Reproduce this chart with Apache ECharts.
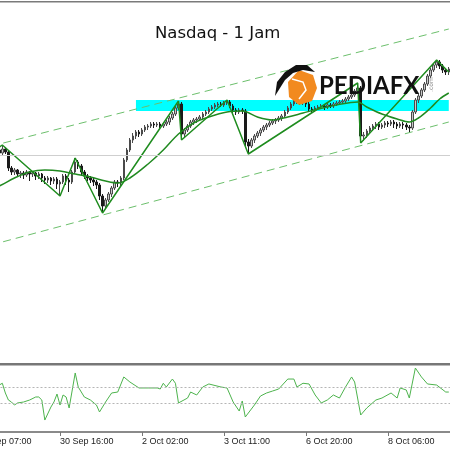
<!DOCTYPE html>
<html>
<head>
<meta charset="utf-8">
<script src="https://cdn.jsdelivr.net/npm/echarts/dist/echarts.min.js"></script>
<style>
html,body{margin:0;padding:0;background:#fff;}
#c{width:450px;height:450px;}
</style>
</head>
<body>
<div id="c"></div>
<script>
// Hourly candles [open, close, low, high]
const candles = [
[25200,25196,25188,25206],[25196,25200,25190,25206],[25200,25190,25184,25204],[25190,25200,25186,25204],[25200,25204,25194,25208],
[25204,25196,25190,25208],[25196,25200,25192,25204],[25200,25194,25186,25204],[25194,25202,25188,25210],[25202,25196,25192,25206],
[25196,25164,25158,25200],[25164,25156,25150,25168],[25156,25160,25150,25164],[25160,25152,25146,25162],[25152,25154,25144,25158],
[25154,25150,25142,25158],[25150,25156,25146,25160],[25156,25152,25138,25158],[25152,25154,25146,25158],[25154,25148,25140,25156],
[25148,25152,25142,25156],[25152,25144,25136,25154],[25144,25140,25132,25148],[25140,25144,25134,25148],[25144,25138,25130,25146],
[25138,25142,25132,25146],[25142,25132,25122,25146],[25132,25136,25108,25140],[25136,25148,25132,25152],[25148,25140,25130,25152],
[25140,25136,25116,25144],[25136,25156,25132,25160],[25156,25176,25152,25184],[25176,25168,25162,25180],[25168,25156,25150,25172],
[25156,25148,25142,25160],[25148,25144,25138,25152],[25144,25140,25134,25148],[25140,25136,25128,25144],[25136,25130,25122,25140],
[25130,25108,25100,25134],[25108,25088,25074,25112],[25088,25100,25082,25104],[25100,25112,25096,25116],[25112,25124,25106,25128],
[25124,25136,25120,25140],[25136,25134,25126,25140],[25134,25144,25128,25148],[25144,25180,25140,25184],[25180,25200,25176,25204],
[25200,25220,25196,25224],[25220,25228,25214,25234],[25228,25236,25222,25240],[25236,25232,25226,25240],[25232,25240,25228,25244],
[25240,25246,25236,25250],[25246,25248,25240,25252],[25248,25252,25244,25256],[25252,25250,25244,25256],[25250,25252,25246,25256],
[25252,25248,25242,25256],[25248,25252,25244,25256],[25252,25256,25248,25260],[25256,25264,25250,25268],[25264,25272,25260,25276],
[25272,25284,25268,25288],[25284,25292,25280,25298],[25292,25232,25220,25296],[25232,25240,25226,25244],[25240,25248,25236,25252],
[25248,25256,25244,25260],[25256,25260,25250,25264],[25260,25262,25254,25266],[25262,25266,25258,25270],[25266,25272,25262,25276],
[25272,25276,25268,25280],[25276,25282,25272,25286],[25282,25286,25278,25290],[25286,25290,25282,25294],[25290,25292,25286,25296],
[25292,25290,25286,25296],[25290,25294,25286,25298],[25294,25296,25290,25300],[25296,25288,25284,25300],[25288,25280,25274,25292],
[25280,25276,25270,25284],[25276,25280,25272,25284],[25280,25278,25272,25284],[25278,25216,25208,25282],[25216,25208,25192,25222],
[25208,25220,25204,25224],[25220,25228,25214,25232],[25228,25234,25224,25238],[25234,25240,25228,25244],[25240,25246,25236,25250],
[25246,25250,25240,25254],[25250,25254,25246,25258],[25254,25258,25250,25262],[25258,25260,25252,25264],[25260,25264,25256,25268],
[25264,25268,25258,25272],[25268,25276,25264,25280],[25276,25284,25272,25288],[25284,25292,25280,25296],[25292,25298,25288,25302],
[25298,25300,25292,25304],[25300,25296,25290,25304],[25296,25298,25290,25302],[25298,25292,25286,25302],[25292,25282,25276,25296],
[25282,25280,25274,25286],[25280,25284,25276,25288],[25284,25286,25280,25290],[25286,25288,25282,25292],[25288,25286,25280,25292],
[25286,25290,25282,25294],[25290,25288,25284,25294],[25288,25292,25284,25296],[25292,25294,25288,25298],[25294,25296,25290,25300],
[25296,25298,25292,25302],[25298,25302,25294,25306],[25302,25306,25298,25310],[25306,25310,25302,25314],[25310,25318,25306,25322],
[25318,25324,25312,25334],[25324,25228,25214,25328],[25228,25230,25218,25236],[25230,25238,25224,25242],[25238,25244,25232,25248],
[25244,25248,25238,25252],[25248,25252,25242,25256],[25252,25246,25240,25256],[25246,25250,25242,25254],[25250,25254,25244,25258],
[25254,25252,25246,25258],[25252,25256,25248,25260],[25256,25252,25244,25260],[25252,25248,25242,25256],[25248,25252,25244,25256],
[25252,25250,25242,25256],[25250,25246,25240,25254],[25246,25244,25236,25250],[25244,25276,25240,25280],[25276,25300,25272,25304],
[25300,25308,25294,25312],[25308,25320,25304,25324],[25320,25332,25316,25336],[25332,25348,25328,25352],[25348,25360,25344,25364],
[25360,25370,25356,25374],[25370,25376,25364,25380],[25376,25368,25362,25380],[25368,25360,25354,25372],[25360,25356,25350,25364],
[25356,25362,25350,25366]
];

// ZigZag vertices [barIndex, price]
const zigzag = [[2,25184],[8,25210],[27,25108],[32,25184],[41,25074],[66,25298],[67,25220],[82,25300],[89,25192],[125,25334],[126,25214],[151,25380],[155,25356]];

// Moving average [barIndex, price]
const movingAvg = [[0,25116],[3,25120],[7,25128],[12,25144],[17,25156],[22,25160],[27,25158],[32,25152],[37,25146],[42,25138],[46,25134],[50,25144],[56,25172],[61,25200],[66,25232],[71,25254],[76,25266],[82,25276],[87,25278],[92,25266],[97,25260],[102,25266],[107,25274],[112,25282],[118,25290],[125,25296],[128,25286],[133,25272],[138,25262],[142,25256],[145,25264],[149,25284],[152,25302],[155,25314]];

// Channel trend lines [barIndex, price]
const trendUpper = [[0,25201],[155,25442]];
const trendLower = [[0,25003],[155,25256]];

// Horizontal level and resistance zone
const levelLine = 25190;
const zoneTop = 25300;
const zoneBottom = 25278;
const zoneStart = 52;
const zoneEnd = 155;

// Oscillator [barIndex, value] and its levels
const oscillator = [[0,55],[3,60],[5,58],[7,62.9],[8,65.1],[9,52.9],[10,44.1],[11,41.6],[12,37.8],[13,40.4],[15,41.6],[17,44.1],[19,47.9],[20,47.9],[21,44.1],[22,19.0],[24,35.3],[25,41.6],[26,51.6],[27,37.8],[28,50.4],[29,47.9],[30,34.1],[32,78.0],[33,60.4],[35,47.9],[37,44.1],[39,37.8],[40,29.1],[42,41.6],[44,52.9],[46,54.1],[48,73.0],[50,66.7],[53,59.2],[56,59.2],[59,59.2],[60,57.9],[61,65.1],[62,60.4],[64,70.4],[65,65.1],[66,40.4],[69,46.6],[70,54.1],[72,50.4],[74,60.4],[76,64.2],[80,60.4],[82,59.2],[84,41.6],[86,30.3],[87,42.9],[88,22.8],[91,37.8],[93,49.1],[95,52.9],[97,55.4],[99,57.9],[102,70.4],[104,70.4],[105,60.4],[107,65.1],[109,64.2],[111,50.4],[113,40.4],[115,44.1],[117,50.4],[119,46.6],[121,60.4],[123,73.0],[124,66.7],[126,25.3],[128,34.1],[131,44.1],[133,46.6],[136,52.9],[138,46.6],[139,59.2],[141,56.7],[142,46.6],[144,84.2],[146,73.0],[148,64.2],[151,62.9],[154,54.1],[155,54.1]];
const oscLevels = [60, 40];

// Time axis labels
const tickIndex = [0, 27, 54, 81, 108, 135];
const tickLabels = ['29 Sep 07:00', '30 Sep 16:00', '2 Oct 02:00', '3 Oct 11:00', '6 Oct 20:00', '8 Oct 06:00'];

const cats = candles.map((_, i) => String(i));
const isTick = (i) => tickIndex.indexOf(i) >= 0;

const chart = echarts.init(document.getElementById('c'), null, {renderer: 'canvas'});
const trendStyle = {color: '#6cbf6c', type: [8, 5], width: 1};

chart.setOption({
  animation: false,
  backgroundColor: '#ffffff',
  title: {
    text: 'Nasdaq - 1 Jam', left: 155, top: 25, padding: 0,
    textStyle: {fontFamily: 'DejaVu Sans', fontSize: 16.5, fontWeight: 'normal', color: '#111'}
  },
  grid: [
    {left: -23.5, width: 473.8, top: 2, height: 360, outerBoundsMode: 'none', containLabel: false},
    {left: -23.5, width: 473.8, top: 365, height: 67, outerBoundsMode: 'none', containLabel: false}
  ],
  xAxis: [
    {type: 'category', gridIndex: 0, data: cats, boundaryGap: true, show: false},
    {type: 'category', gridIndex: 1, data: cats, boundaryGap: true,
     axisLine: {show: true, lineStyle: {color: '#8a8a8a', width: 2}},
     axisTick: {show: true, interval: (i) => isTick(i), alignWithLabel: true, length: 4, lineStyle: {color: '#777'}},
     axisLabel: {interval: (i) => isTick(i), formatter: (v, i) => tickLabels[tickIndex.indexOf(i)] || '',
                 align: 'left', margin: 5, fontFamily: 'Liberation Sans', fontSize: 9, color: '#222'},
     splitLine: {show: false}}
  ],
  yAxis: [
    {type: 'value', gridIndex: 0, min: 24776, max: 25496, show: false},
    {type: 'value', gridIndex: 1, min: 4, max: 88, show: false}
  ],
  series: [
    {type: 'line', xAxisIndex: 0, yAxisIndex: 0, data: trendUpper, symbol: 'none', lineStyle: trendStyle, z: 1, silent: true,
     markArea: {silent: true, itemStyle: {color: '#00ffff'},
                data: [[{xAxis: zoneStart, yAxis: zoneTop}, {xAxis: zoneEnd, yAxis: zoneBottom}]]},
     markLine: {silent: true, symbol: 'none', label: {show: false},
                lineStyle: {color: '#cfcfcf', type: 'solid', width: 1}, data: [{yAxis: levelLine}]}},
    {type: 'line', xAxisIndex: 0, yAxisIndex: 0, data: trendLower, symbol: 'none', lineStyle: trendStyle, z: 1, silent: true},
    {type: 'candlestick', xAxisIndex: 0, yAxisIndex: 0, data: candles, barWidth: 2, z: 2,
     itemStyle: {color: '#c8c8c8', color0: '#1a1a1a', borderColor: '#4a4a4a', borderColor0: '#1a1a1a', borderWidth: 1}},
    {type: 'line', xAxisIndex: 0, yAxisIndex: 0, data: movingAvg, symbol: 'none', smooth: 0.35,
     lineStyle: {color: '#218a21', width: 1.5}, z: 3},
    {type: 'line', xAxisIndex: 0, yAxisIndex: 0, data: zigzag, symbol: 'none',
     lineStyle: {color: '#1e8c1e', width: 1.5}, z: 3},
    {type: 'line', xAxisIndex: 1, yAxisIndex: 1, data: oscillator, symbol: 'none',
     lineStyle: {color: '#4db34d', width: 1}, z: 3,
     markLine: {silent: true, symbol: 'none', label: {show: false},
                lineStyle: {color: '#b5b5b5', type: [2, 2], width: 1},
                data: oscLevels.map(v => ({yAxis: v}))}}
  ],
  graphic: [
    {type: 'rect', shape: {x: 0, y: 1, width: 450, height: 1.5}, style: {fill: '#7a7a7a'}, z: 100},
    {type: 'rect', shape: {x: 0, y: 363, width: 450, height: 2.5}, style: {fill: '#777777'}, z: 100},
    {type: 'polygon', shape: {points: [[299,70],[313,75],[317,88],[312,101],[299,105],[289,97],[288,82]]},
     style: {fill: '#f28a1f'}, z: 100},
    {type: 'polyline', shape: {points: [[292,79],[303,82],[306,90],[299,99]]},
     style: {stroke: '#ffffff', lineWidth: 1.5, fill: 'none'}, z: 101},
    {type: 'polygon', shape: {points: [[275,96],[277,82],[285,72],[296,65],[307,65],[315,72],[303,70],[293,73],[285,80],[280,88]]},
     style: {fill: '#111111'}, z: 101},
    {type: 'text', x: 319, y: 86, style: {text: 'PEDIAFX', fontFamily: 'Lato', fontWeight: 'bold', fontSize: 24, fill: '#111', align: 'left', verticalAlign: 'middle'}, z: 101},
    {type: 'text', x: 431, y: 92, rotation: Math.PI / 2, style: {text: '.com', fontFamily: 'DejaVu Sans', fontSize: 6, fill: '#888', align: 'left', verticalAlign: 'middle'}, z: 101}
  ]
});
</script>
</body>
</html>
